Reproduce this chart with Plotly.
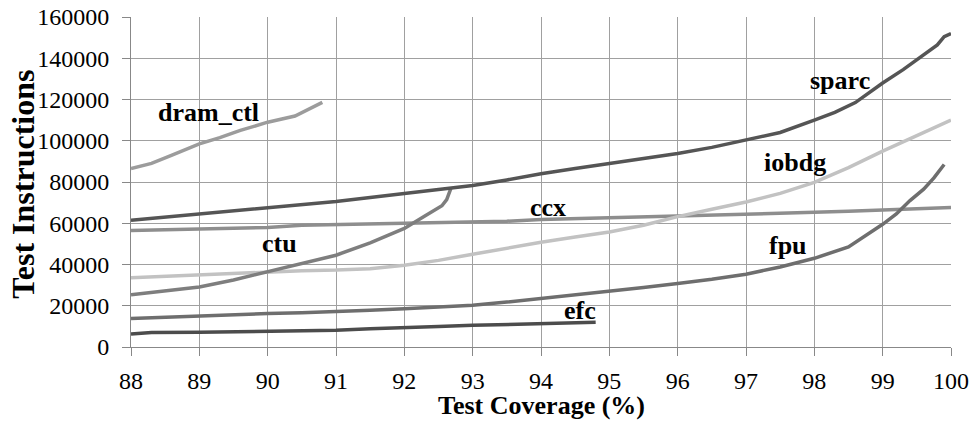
import plotly.graph_objects as go

# ---- data ----
sparc_x = [88, 88.5, 89, 89.5, 90, 90.5, 91, 91.5, 92, 92.5, 93, 93.5, 94, 94.5, 95, 95.5, 96, 96.5, 97, 97.5, 98, 98.3, 98.6, 99, 99.3, 99.6, 99.8, 99.9, 100]
sparc_y = [61500, 63000, 64500, 66000, 67500, 69200, 70500, 72500, 74500, 76500, 78300, 81000, 84000, 86500, 88800, 91300, 93800, 96800, 100200, 104000, 110000, 113800, 118500, 128000, 134500, 141500, 146500, 150500, 152000]

dram_x = [88, 88.3, 88.6, 89, 89.3, 89.6, 90, 90.4, 90.8]
dram_y = [86500, 89000, 93000, 98500, 101500, 105000, 109000, 112000, 118600]

ccx_x = [88, 88.5, 89, 89.5, 90, 90.5, 91, 91.5, 92, 92.5, 93, 93.5, 94, 94.5, 95, 95.5, 96, 96.5, 97, 97.5, 98, 98.5, 99, 99.5, 100]
ccx_y = [56500, 56800, 57000, 57500, 58000, 59000, 59300, 59500, 60000, 60200, 60500, 61000, 61800, 62200, 62600, 62900, 63300, 63700, 64300, 64800, 65300, 65800, 66300, 67000, 67600]

iobdg_x = [88, 88.5, 89, 89.5, 90, 90.5, 91, 91.5, 92, 92.5, 93, 93.5, 94, 94.5, 95, 95.5, 96, 96.5, 97, 97.5, 98, 98.5, 99, 99.5, 100]
iobdg_y = [33600, 34300, 35000, 35500, 36300, 37000, 37300, 38000, 39600, 42000, 45000, 48000, 50800, 53300, 55800, 59000, 63200, 66800, 70300, 74500, 79800, 87000, 95000, 102500, 110000]

ctu_x = [88, 88.5, 89, 89.5, 90, 90.5, 91, 91.5, 92, 92.3, 92.55, 92.62, 92.68]
ctu_y = [25300, 27000, 29100, 32500, 36500, 40500, 44500, 50500, 57500, 63500, 68500, 71500, 76800]

fpu_x = [88, 88.5, 89, 89.5, 90, 90.5, 91, 91.5, 92, 92.5, 93, 93.5, 94, 94.5, 95, 95.5, 96, 96.5, 97, 97.5, 98, 98.5, 99, 99.2, 99.4, 99.6, 99.75, 99.9]
fpu_y = [13800, 14500, 15000, 15500, 16200, 16600, 17000, 17800, 18600, 19300, 20200, 21800, 23500, 25000, 26700, 28800, 30800, 32800, 35300, 38800, 43000, 48500, 59500, 64500, 71000, 76500, 82000, 88500]

efc_x = [88, 88.3, 89, 89.5, 90, 90.5, 91, 91.5, 92, 92.5, 93, 93.5, 94, 94.5, 94.8]
efc_y = [6300, 7000, 7200, 7400, 7800, 8000, 8100, 8800, 9600, 10000, 10500, 11000, 11500, 11800, 12000]

x_ticks = [88, 89, 90, 91, 92, 93, 94, 95, 96, 97, 98, 99, 100]
y_ticks = [0, 20000, 40000, 60000, 80000, 100000, 120000, 140000, 160000]

labels = ["dram_ctl", "sparc", "iobdg", "ccx", "ctu", "fpu", "efc"]
label_x = [89.13, 98.38, 97.72, 94.1, 90.18, 97.62, 94.57]
label_y = [113800, 129300, 89500, 67700, 50300, 49300, 17800]

x_title = "Test Coverage (%)"
y_title = "Test Instructions"

series = [
    (dram_x, dram_y, "#9c9c9c"),
    (ccx_x, ccx_y, "#8e8e8e"),
    (iobdg_x, iobdg_y, "#c2c2c2"),
    (ctu_x, ctu_y, "#7e7e7e"),
    (fpu_x, fpu_y, "#6e6e6e"),
    (efc_x, efc_y, "#4c4c4c"),
    (sparc_x, sparc_y, "#555555"),
]

SERIF = "Liberation Serif"

fig = go.Figure()
for xs, ys, c in series:
    fig.add_trace(go.Scatter(x=xs, y=ys, mode="lines",
                             line=dict(color=c, width=3.5), showlegend=False))

for t, lx, ly in zip(labels, label_x, label_y):
    fig.add_annotation(x=lx, y=ly, text="<b>%s</b>" % t, showarrow=False,
                       font=dict(family=SERIF, size=26, color="#000"))

# axis titles placed as paper annotations (they sit closer to the tick labels than plotly allows)
fig.add_annotation(xref="paper", yref="paper", x=0.5, y=-0.176, xanchor="center", yanchor="middle",
                   text="<b>%s</b>" % x_title, showarrow=False,
                   font=dict(family=SERIF, size=26, color="#000"))
fig.add_annotation(xref="paper", yref="paper", x=0, y=0.492, xanchor="center", yanchor="middle",
                   xshift=-108, textangle=-90, text="<b>%s</b>" % y_title, showarrow=False,
                   font=dict(family=SERIF, size=32, color="#000"))

tick_font = dict(family=SERIF, size=24, color="#000")
fig.update_layout(
    width=976, height=430,
    margin=dict(l=131, r=25, t=17, b=83),
    paper_bgcolor="white", plot_bgcolor="white",
    font=tick_font,
    xaxis=dict(range=[88, 100], tickvals=x_ticks, ticks="outside", ticklen=8,
               tickcolor="#888", showgrid=True, gridcolor="#a0a0a0", gridwidth=1,
               showline=True, linecolor="#888", linewidth=1, zeroline=False,
               ticklabelstandoff=4, automargin=False,
               tickfont=tick_font),
    yaxis=dict(range=[0, 160000], tickvals=y_ticks, ticks="outside", ticklen=8,
               tickcolor="#888", showgrid=True, gridcolor="#a0a0a0", gridwidth=1,
               showline=True, linecolor="#888", linewidth=1, zeroline=False,
               tickformat="d", ticklabelstandoff=8, automargin=False,
               tickfont=tick_font),
)
fig.write_html("out.html", config={"displayModeBar": False},
               post_script="document.body.style.margin='0';document.body.style.overflow='hidden';")
